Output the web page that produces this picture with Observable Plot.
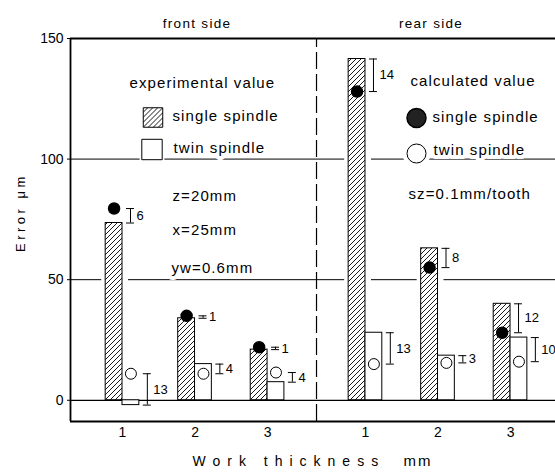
<!DOCTYPE html>
<html>
<head>
<meta charset="utf-8">
<script src="https://cdn.jsdelivr.net/npm/d3@7"></script>
<script src="https://cdn.jsdelivr.net/npm/@observablehq/plot@0.6"></script>
<style>
  body { margin: 0; background: white; }
</style>
</head>
<body>
<svg width="0" height="0" style="position:absolute">
  <defs>
    <pattern id="hatch" patternUnits="userSpaceOnUse" width="5" height="5">
      <path d="M-1,1 l2,-2 M0,5 l5,-5 M4,6 l2,-2" stroke="black" stroke-width="0.9"/>
    </pattern>
  </defs>
</svg>
<div id="chart"></div>
<script>
// ---- data ----
const sides = ["front side", "rear side"];
const thickness = [1, 2, 3];
const tickLabels = ["1", "2", "3", "1", "2", "3"];
const expSingle = [73.5, 34, 21, 141.5, 63, 40];   // experimental, single spindle
const expTwin   = [-2, 15, 7.5, 28, 18.5, 26];     // experimental, twin spindle
const calcSingle = [79.5, 35, 22, 128, 55, 28];    // calculated, single spindle
const calcTwin   = [11, 11, 11.5, 15, 15.5, 16];   // calculated, twin spindle
const diffSingle = ["6", "1", "1", "14", "8", "12"];
const diffTwin   = ["13", "4", "4", "13", "3", "10"];
const yTicks = [0, 50, 100, 150];
const gridValues = [50, 100];

// ---- layout helpers ----
const rearShift = 3.35;
const bw = 0.232;
const rows = sides.flatMap((side, si) => thickness.map((t, ti) => {
  const i = si * thickness.length + ti;
  return {side, t, i, pos: t + si * rearShift,
    expS: expSingle[i], expT: expTwin[i], calcS: calcSingle[i], calcT: calcTwin[i],
    dS: diffSingle[i], dT: diffTwin[i]};
}));
const tickMap = new Map(rows.map(d => [d.pos, tickLabels[d.i]]));
const yMin = -8.8, yMax = 150;
const xMin = 0.283, xMax = 6.97;
const divider = (thickness[thickness.length - 1] + (thickness[0] + rearShift)) / 2;

const font = "Liberation Sans, Arial, sans-serif";

const errMarks = (edge, a, b, lab) => [
  Plot.ruleX(rows, {x: edge, y1: a, y2: b, dx: 8, stroke: "black", strokeWidth: 1}),
  Plot.ruleY(rows, {y: a, x1: edge, x2: d => edge(d) + 0.11, dx: 4, stroke: "black", strokeWidth: 1}),
  Plot.ruleY(rows, {y: b, x1: edge, x2: d => edge(d) + 0.11, dx: 4, stroke: "black", strokeWidth: 1}),
  Plot.text(rows, {x: edge, y: d => (a(d) + b(d)) / 2, text: lab, dx: 14, textAnchor: "start", fontSize: 13})
];

const legendText = (txt, dx, dy) => Plot.text([txt], {frameAnchor: "top-left", dx, dy, text: d => d,
  textAnchor: "start", lineAnchor: "middle", fontSize: 15, fill: "black", stroke: "white", strokeWidth: 8, ariaDescription: "legend"});

const header = (side, dx) => Plot.text(rows.filter(d => d.t === 2 && d.side === side),
  {x: "pos", frameAnchor: "top", dy: -20, dx, text: "side", fontSize: 13.5, ariaDescription: "header"});

const chart = Plot.plot({
  width: 555,
  height: 475,
  marginLeft: 70,
  marginRight: 0,
  marginTop: 38,
  marginBottom: 54,
  style: {fontFamily: font, fontSize: "14px", background: "white", color: "black", overflow: "visible"},
  x: {domain: [xMin, xMax]},
  y: {domain: [yMin, yMax]},
  marks: [
    // grid lines
    Plot.ruleY(gridValues, {stroke: "black", strokeWidth: 1}),
    // knockouts around tall bars
    Plot.rect(rows, {x1: d => d.pos - bw, x2: d => d.pos, y1: 0, y2: "expS", fill: "white", insetLeft: -4, insetRight: -6}),
    // legend backgrounds
    Plot.dot([0], {frameAnchor: "top-left", dx: 81.5, dy: 111, symbol: "square", r: 14, fill: "white"}),
    Plot.dot([0], {frameAnchor: "top-left", dx: 346, dy: 115, r: 14, fill: "white"}),
    // zero line
    Plot.ruleY([0], {stroke: "black", strokeWidth: 1.3}),
    // bars
    Plot.rect(rows, {x1: d => d.pos - bw, x2: d => d.pos, y1: 0, y2: "expS", fill: "url(#hatch)", stroke: "black", strokeWidth: 1}),
    Plot.rect(rows, {x1: d => d.pos, x2: d => d.pos + bw, y1: 0, y2: "expT", fill: "white", stroke: "black", strokeWidth: 1}),
    // error bars
    ...errMarks(d => d.pos, d => d.expS, d => d.calcS, "dS"),
    ...errMarks(d => d.pos + bw, d => d.expT, d => d.calcT, "dT"),
    // calculated values
    Plot.dot(rows, {x: d => d.pos - bw / 2, y: "calcS", r: 5.5, fill: "black", stroke: "black"}),
    Plot.dot(rows, {x: d => d.pos + bw / 2, y: "calcT", r: 5.5, fill: "white", stroke: "black", strokeWidth: 1}),
    // frame
    Plot.ruleY([yMax], {stroke: "black", strokeWidth: 1.8}),
    Plot.ruleY([yMin], {stroke: "black", strokeWidth: 1.8}),
    Plot.ruleX([xMin], {stroke: "black", strokeWidth: 1.8}),
    Plot.ruleX([divider], {y1: yMin, y2: yMax, stroke: "black", strokeWidth: 1.2, strokeDasharray: "17,5"}),
    // axes
    Plot.axisY({ticks: yTicks, tickSize: 3, tickPadding: 4, label: null, fontSize: 14}),
    Plot.axisX({ticks: rows.map(d => d.pos), tickFormat: d => tickMap.get(d), tickSize: 0, tickPadding: 6, label: null, fontSize: 14}),
    header("front side", 2),
    header("rear side", -7),
    Plot.text(["Error μm"], {frameAnchor: "left", rotate: -90, dx: -50, dy: 22, text: d => d, fontSize: 13, ariaDescription: "ylabel"}),
    Plot.text(["Work thickness"], {frameAnchor: "bottom-left", dx: 122, dy: 44, text: d => d, textAnchor: "start", fontSize: 14, ariaDescription: "xlabel"}),
    Plot.text(["mm"], {frameAnchor: "bottom-left", dx: 333, dy: 44, text: d => d, textAnchor: "start", fontSize: 15, ariaDescription: "unit"}),
    // legend: experimental
    legendText("experimental value", 59, 45),
    Plot.dot([0], {frameAnchor: "top-left", dx: 82.5, dy: 79, symbol: "square", r: 11, fill: "url(#hatch)", stroke: "black", strokeWidth: 1}),
    legendText("single spindle", 102, 78),
    Plot.dot([0], {frameAnchor: "top-left", dx: 81.5, dy: 111, symbol: "square", r: 11.5, fill: "white", stroke: "black", strokeWidth: 1}),
    legendText("twin spindle", 103, 110),
    legendText("z=20mm", 102, 158),
    legendText("x=25mm", 102, 192),
    legendText("yw=0.6mm", 101, 230),
    // legend: calculated
    legendText("calculated value", 340, 43),
    Plot.dot([0], {frameAnchor: "top-left", dx: 346, dy: 79.5, r: 9.5, fill: "#222", stroke: "black"}),
    legendText("single spindle", 362, 79),
    Plot.dot([0], {frameAnchor: "top-left", dx: 346, dy: 115, r: 9.5, fill: "white", stroke: "black", strokeWidth: 1}),
    legendText("twin spindle", 363, 112),
    legendText("sz=0.1mm/tooth", 338, 156)
  ]
});
// letter spacing on the groups tagged by aria-description
const spacing = {legend: "1.1px", header: "1.3px", ylabel: "3.5px", xlabel: "7px", unit: "2px"};
for (const [k, v] of Object.entries(spacing)) {
  d3.select(chart).selectAll(`[aria-description="${k}"]`).each(function () {
    const sel = d3.select(this);
    sel.style("letter-spacing", v);
    sel.selectAll("text").style("letter-spacing", v);
  });
}
document.getElementById("chart").appendChild(chart);
</script>
</body>
</html>
